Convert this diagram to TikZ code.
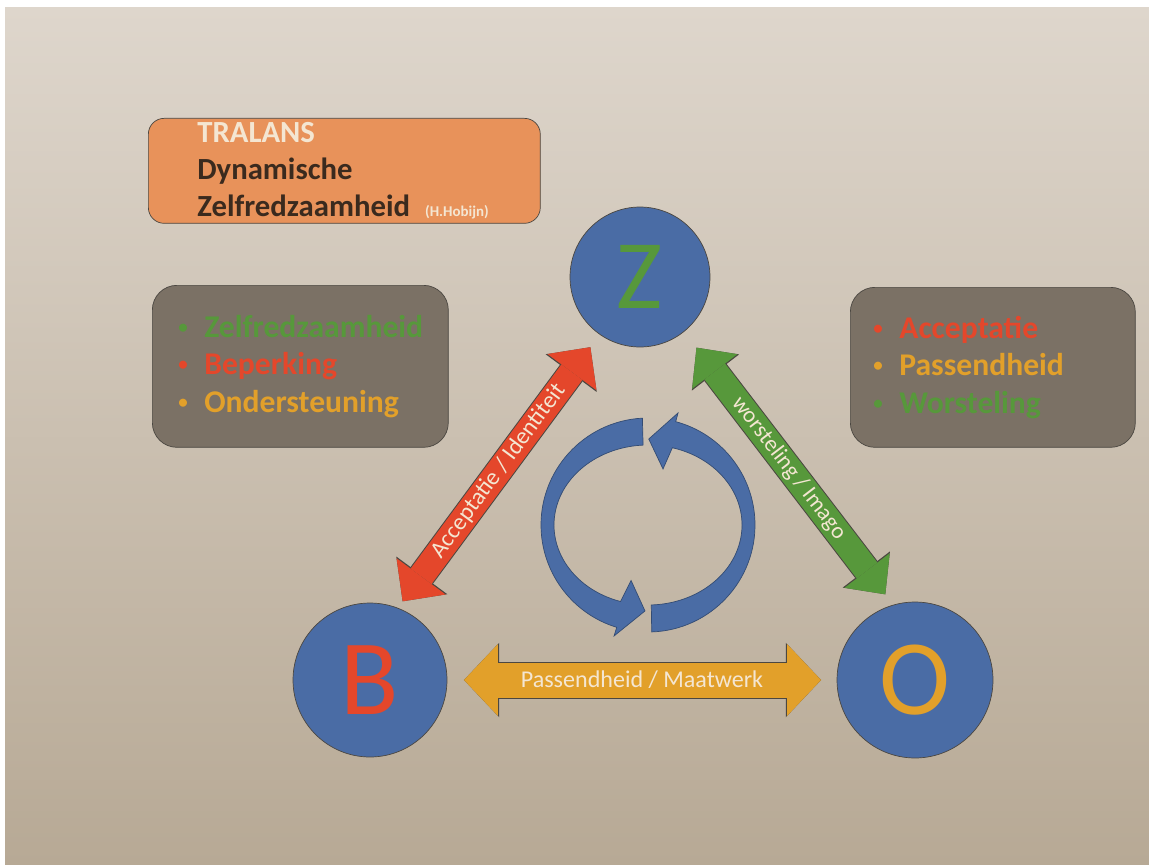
\documentclass[tikz,border=0pt]{standalone}
\usepackage{fontspec}
\setmainfont{Carlito}
\usepackage{tikz}
\usetikzlibrary{arrows.meta}

\definecolor{paper}{HTML}{DED6CC}
\definecolor{papermid}{HTML}{D6CCC0}
\definecolor{paperlow}{HTML}{B7A995}
\definecolor{boxorange}{HTML}{E8925A}
\definecolor{boxgray}{HTML}{7B7165}
\definecolor{circblue}{HTML}{4A6CA5}
\definecolor{zgreen}{HTML}{57983B}
\definecolor{bred}{HTML}{E4472B}
\definecolor{ogold}{HTML}{E2A02A}
\definecolor{edgegray}{HTML}{4B4741}
\definecolor{titlebrown}{HTML}{3A2A1E}
\definecolor{cream}{HTML}{F4E6D2}

\newcommand{\bitem}[2]{\textcolor{#1}{\makebox[0.52cm][l]{\raisebox{0.12em}{\scalebox{0.6}{\textbullet}}}#2}}

\tikzset{
  letter/.style={circle, fill=circblue, draw=edgegray, inner sep=0pt, outer sep=0pt},
  titlebox/.style={fill=boxorange, draw=edgegray, rounded corners=9pt, align=left, anchor=north west,
    inner ysep=0pt, font=\fontsize{17.5}{21}\selectfont\bfseries},
  listbox/.style={fill=boxgray, draw=edgegray, rounded corners=14pt, align=left, anchor=north west,
    inner ysep=0pt, font=\fontsize{18}{21.3}\selectfont\bfseries},
  blockarrow/.style n args={3}{line width=#1,
    arrows={Triangle[width=#2,length=#3,line width=0pt]-Triangle[width=#2,length=#3,line width=0pt]}},
  onarrow/.style={font=\fontsize{#1}{14}\selectfont, inner sep=0pt},
  cycarrow/.style={fill=circblue, draw=circblue!70!black, line width=0.4pt}
}

\begin{document}
\begin{tikzpicture}[x=0.02cm, y=0.02cm]
\useasboundingbox (0,0) rectangle (1149,-865);
\fill[white] (0,0) rectangle (1149,-865);
\shade[top color=paper, middle color=papermid, bottom color=paperlow] (5,-8) rectangle (1149,-865);

\node[titlebox, minimum width=7.84cm, minimum height=2.1cm, inner xsep=0.98cm, text width=5.88cm] (title) at (148,-118)
  {\textcolor{cream}{TRALANS}\\
   \textcolor{titlebrown}{Dynamische}\\
   \textcolor{titlebrown}{Zelfredzaamheid}\hspace{0.3cm}{\fontsize{8.5}{9}\selectfont\textcolor{cream}{(H.Hobijn)}}};

\node[listbox, minimum width=5.92cm, minimum height=3.24cm, inner xsep=0.52cm, text width=4.88cm] (leftlist) at (152,-285)
  {\bitem{zgreen}{Zelfredzaamheid}\\
   \bitem{bred}{Beperking}\\
   \bitem{ogold}{Ondersteuning}};

\node[listbox, minimum width=5.7cm, minimum height=3.2cm, inner xsep=0.46cm, text width=4.78cm] (rightlist) at (850,-287)
  {\bitem{bred}{Acceptatie}\\
   \bitem{ogold}{Passendheid}\\
   \bitem{zgreen}{Worsteling}};

\node[letter, minimum size=2.8cm, text=zgreen, font=\fontsize{56}{56}\selectfont] (Z) at (640,-277) {Z};
\node[letter, minimum size=3.08cm, text=bred, font=\fontsize{61}{61}\selectfont] (B) at (370,-680) {B};
\node[letter, minimum size=3.12cm, text=ogold, font=\fontsize{61}{61}\selectfont] (O) at (915,-680) {O};

\draw[blockarrow={0.56cm}{1.27cm}{0.645cm}, edgegray, shorten <=0.17cm, shorten >=0.32cm] (B.69) -- (Z.235);
\draw[blockarrow={0.52cm}{1.22cm}{0.62cm}, bred, shorten <=0.17cm, shorten >=0.32cm] (B.69) -- (Z.235)
  node[midway, sloped, onarrow=13.5, text=cream] {Acceptatie / Identiteit};

\draw[blockarrow={0.56cm}{1.19cm}{0.625cm}, edgegray, shorten <=0.41cm, shorten >=0.27cm] (Z.309) -- (O.106);
\draw[blockarrow={0.52cm}{1.14cm}{0.6cm}, zgreen, shorten <=0.41cm, shorten >=0.27cm] (Z.309) -- (O.106)
  node[midway, sloped, onarrow=13, text=cream] {worsteling / Imago};

\draw[blockarrow={0.74cm}{1.49cm}{0.705cm}, edgegray, shorten <=0.34cm, shorten >=0.32cm] (B.east) -- (O.west);
\draw[blockarrow={0.7cm}{1.44cm}{0.68cm}, ogold, shorten <=0.34cm, shorten >=0.32cm] (B.east) -- (O.west)
  node[midway, onarrow=13.7, text=cream] {Passendheid / Maatwerk};

\begin{scope}[shift={(648,-525)}]
\filldraw[cycarrow] (93:107) arc[start angle=93, end angle=253, radius=107]
  -- (253:116) -- (268:86) -- (253:58) -- (253:94 and 80)
  arc[start angle=253, end angle=93, x radius=94, y radius=80] -- cycle;
\filldraw[cycarrow] (272:107) arc[start angle=272, end angle=435, radius=107]
  -- (435:116) -- (449.5:86) -- (435:58) -- (435:94 and 80)
  arc[start angle=435, end angle=272, x radius=94, y radius=80] -- cycle;
\end{scope}
\end{tikzpicture}
\end{document}
